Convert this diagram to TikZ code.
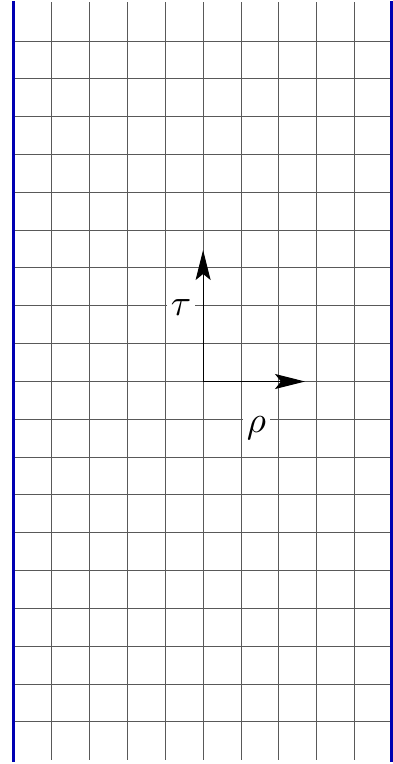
\documentclass[tikz,border=0pt]{standalone}
\usetikzlibrary{arrows.meta}
\definecolor{wallblue}{rgb}{0,0,0.7}
\newcommand{\biglab}[1]{\scalebox{3.7}{$#1$}}
\begin{document}
\begin{tikzpicture}[x=1pt,y=-1pt,
  gridline/.style={line width=1pt,draw=black!65},
  wall/.style={line width=3pt,draw=wallblue},
  axis/.style={line width=1pt,draw=black,-{Stealth[length=30pt,width=15pt,inset=6pt]}},
  lab/.style={fill=white,inner sep=4pt}]
\useasboundingbox (0,0) rectangle (393,764);
% vertical grid lines
\foreach \k in {0,...,8}{
  \draw[gridline] ({51.5+37.9*\k},2) -- ({51.5+37.9*\k},760);
}
% horizontal grid lines
\foreach \k in {0,...,18}{
  \draw[gridline] (14,{41+37.83*\k}) -- (391,{41+37.83*\k});
}
% walls
\draw[wall] (13.5,1) -- (13.5,762);
\draw[wall] (391.5,1) -- (391.5,762);
% axes
\coordinate (O) at (203.1,381.5);
\coordinate (T) at (203.1,250);
\coordinate (R) at (305,381.5);
\draw[axis] (O) -- (T);
\draw[axis] (O) -- (R);
\node[lab] (tau) at (181,307.5) {\biglab{\tau}};
\node[lab] (rho) at (256.5,428.5) {\biglab{\rho}};
\end{tikzpicture}
\end{document}
